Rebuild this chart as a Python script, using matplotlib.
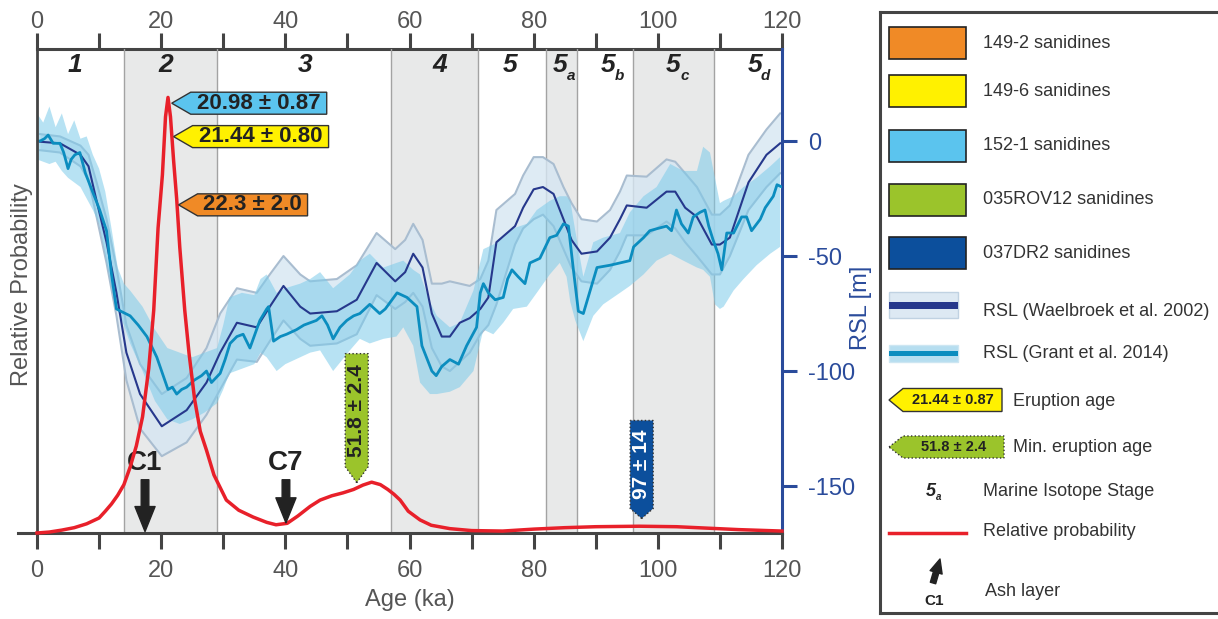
import numpy as np
import matplotlib
matplotlib.use('Agg')
import matplotlib.pyplot as plt
import matplotlib.transforms as mtransforms
from matplotlib.patches import Polygon, Rectangle

plt.rcParams['font.family'] = ['Liberation Sans', 'DejaVu Sans']
plt.rcParams['axes.unicode_minus'] = False

# --- relative probability curve (ka, arbitrary units) ---
prob_age = [0, 2, 4, 6, 8, 10, 11, 12, 13, 14, 15, 16, 17, 18, 18.8, 19.5, 20.2, 20.7,
            21.1, 21.5, 22.0, 22.5, 23.0, 23.8, 24.5, 25.4, 26.3, 27.3, 28.5, 30.5, 32.5,
            34.8, 37, 38.5, 40.3, 42, 44, 45.6, 47.5, 49.3, 51, 52.5, 53.9, 55.3, 56.5,
            57.5, 58.5, 59.8, 61.7, 63.5, 66.5, 70, 75, 80, 85, 90, 97, 103, 108, 113, 120]
prob_val = [0, 0.002, 0.006, 0.011, 0.019, 0.031, 0.045, 0.06, 0.078, 0.10, 0.136, 0.18,
            0.24, 0.34, 0.46, 0.63, 0.74, 0.86, 0.90, 0.86, 0.77, 0.69, 0.59, 0.46, 0.37,
            0.275, 0.21, 0.171, 0.12, 0.068, 0.047, 0.033, 0.022, 0.017, 0.02, 0.035, 0.055,
            0.068, 0.077, 0.083, 0.09, 0.099, 0.105, 0.1, 0.09, 0.08, 0.068, 0.045, 0.027,
            0.016, 0.009, 0.005, 0.004, 0.008, 0.011, 0.013, 0.014, 0.013, 0.01, 0.007, 0.004]

# --- RSL Waelbroek et al. 2002 (line + band) ---
wael_age = [0.5, 3.7, 7.0, 8.3, 9.6, 11.2, 12.8, 14.4, 16.6, 20.1, 24.1, 27.3, 29.5, 32.2,
            35.4, 37.5, 39.7, 42.4, 44.0, 48.3, 51.5, 54.7, 57.7, 59.3, 60.6, 62.1, 63.6,
            65.2, 66.5, 68.1, 69.7, 71.4, 72.7, 74.0, 77.0, 78.3, 80.0, 81.5, 83.2, 84.8,
            86.1, 87.7, 90.2, 92.3, 93.9, 95.0, 98.2, 101.4, 102.8, 104.4, 106.3, 108.7,
            110.0, 111.6, 114.6, 117.5, 119.7]
wael_rsl = [-0.3, -1, -6, -11, -26, -44, -66, -92, -110, -124, -117, -105, -92, -79, -81,
            -72, -63, -72, -75, -74, -69, -53, -61, -57, -49, -55, -75, -85, -85, -79, -77,
            -73, -68, -44, -37, -29, -21, -20, -23, -34, -43, -49, -48, -42, -34, -28, -29,
            -22, -22, -29, -33, -45, -45, -42, -18, -6, -1]
wael_hi = [3, 2, -2, -6, -18, -34, -55, -80, -97, -110, -103, -90, -75, -64, -66, -58, -50,
           -58, -61, -60, -54, -40, -47, -43, -36, -43, -62, -62, -61, -62, -63, -60, -52,
           -30, -23, -15, -7, -7, -10, -20, -27, -34, -35, -30, -22, -15, -15.5, -8, -9,
           -14, -20, -32, -32, -28, -6, 5, 12]
wael_lo = [-4, -5, -11, -17, -33, -53, -76, -104, -125, -137, -131, -119, -108, -95, -96,
           -87, -78, -86, -89, -88, -84, -67, -73, -70, -66, -72, -90, -98, -100, -96, -92,
           -84, -80, -71, -45, -38, -34, -32, -37, -47, -55, -61, -62, -56, -48, -41, -41,
           -35, -38, -44, -50, -58, -58, -50, -30, -20, -14]

# --- RSL Grant et al. 2014 (line) ---
grant_age = [0.0, 0.5, 1.2, 1.8, 2.6, 3.7, 4.3, 5.0, 5.5, 6.1, 6.9, 7.8, 8.8, 10.1, 11.2,
             12.0, 12.8, 13.5, 15.0, 16.3, 17.7, 19.3, 20.2, 21.1, 21.8, 22.5, 23.3, 24.1,
             25.3, 26.5, 27.3, 28.1, 29.5, 30.3, 31.1, 32.2, 33.2, 34.3, 35.1, 35.9, 37.0,
             37.3, 38.1, 39.2, 40.2, 41.8, 43.0, 44.0, 45.0, 45.9, 46.8, 47.7, 48.8, 49.9,
             51.0, 52.0, 53.6, 55.2, 56.1, 58.0, 59.6, 61.2, 62.0, 63.6, 64.3, 65.2, 66.5,
             67.9, 69.2, 70.8, 71.4, 71.9, 72.7, 73.8, 75.1, 75.8, 76.5, 77.5, 78.6, 79.4,
             81.0, 82.6, 83.7, 84.8, 85.6, 86.4, 87.2, 88.0, 89.1, 90.2, 92.3, 93.9, 95.5,
             96.1, 97.7, 98.7, 100.0, 101.4, 102.2, 103.0, 103.8, 104.9, 105.7, 106.8, 107.6,
             108.2, 108.9, 109.7, 110.3, 111.1, 112.2, 113.5, 114.3, 115.1, 116.5, 117.3,
             118.6, 119.2, 120.0]
grant_rsl = [0, 0, 1, 2.6, -1, -1, -5, -12, -8, -6, -5, -14, -21, -30, -39, -58, -73, -74,
             -76, -80, -85, -94, -101, -108, -107, -110, -108, -107, -104, -102, -100, -105,
             -101, -95, -88, -85, -84, -90, -84, -78, -73, -72, -87, -85, -84, -82, -80, -79,
             -78, -76, -80, -86, -81, -78, -76, -75, -71, -75, -73, -66, -68, -72, -89, -100,
             -102, -98, -95, -97, -89, -81, -66, -62, -66, -69, -68, -60, -56, -59, -62, -53,
             -51, -42, -41, -36, -37, -56, -74, -75, -65, -55, -54, -53, -52, -46, -42, -39,
             -38, -37, -39, -30, -36, -40, -33, -31, -30, -37, -43, -49, -56, -40, -40, -33,
             -33, -39, -34, -29, -24, -19, -20]

# --- Grant et al. 2014 uncertainty band ---
gband_age = [0, 1, 2, 3, 4, 5, 6, 7, 8, 9, 10, 11, 12, 13, 14, 15, 17, 19, 21, 23, 25, 27,
             29, 30, 31, 33, 35, 36, 37, 38.6, 40, 42.4, 44, 45.6, 47.7, 50.4, 52, 53.6, 55.8,
             57.9, 59, 60.6, 61.7, 63.3, 64.4, 66.5, 68.1, 70.3, 71.9, 73.5, 75.1, 76.7, 78.9,
             80.5, 82.6, 84.2, 85.3, 85.9, 86.7, 88.0, 89.6, 91.2, 93.9, 95.5, 97.7, 99.8, 102,
             104.1, 106.3, 107.3, 108.4, 109.2, 110, 110.6, 112.2, 113.8, 115.9, 118.1, 119.7]
gband_hi = [12, 8, 15, 6, 12, 3, 9, 1, 2, -6, -12, -22, -38, -55, -62, -65, -72, -82, -90,
            -92, -94, -92, -90, -80, -68, -66, -67, -60, -58, -66, -64, -62, -60, -57, -64,
            -58, -52, -49, -55, -53, -52, -56, -58, -70, -76, -81, -79, -65, -47, -45, -42,
            -38, -36, -30, -26, -24, -24, -26, -39, -59, -44, -42, -40, -31, -24, -20, -10,
            -13, -13, -2.5, -5, -16, -27, -26, -24, -20, -16, -11, -7]
gband_lo = [-8, -9, -10, -9, -13, -16, -18, -20, -25, -30, -36, -50, -64, -74, -80, -88,
            -100, -113, -121, -123, -121, -118, -114, -108, -101, -99, -97, -92, -94, -100,
            -97, -94, -92, -91, -100, -91, -86, -88, -86, -85, -81, -89, -105, -110, -110,
            -109, -107, -100, -82, -84, -79, -73, -72, -66, -58, -53, -59, -70, -78, -87, -76,
            -71, -66, -63, -58, -52, -49, -52, -55, -56, -59, -71, -73, -72, -65, -60, -54,
            -49, -46]

# --- marine isotope stages ---
mis_shaded = [(14, 29), (57, 71), (82, 87), (96, 109)]
mis_bounds = [14, 29, 57, 71, 82, 87, 96, 109]
mis_pos = [6.1, 20.7, 43.2, 64.8, 76.2, 84.2, 92.0, 102.5, 115.6]
mis_main = ['1', '2', '3', '4', '5', '5', '5', '5', '5']
mis_sub = ['', '', '', '', '', 'a', 'b', 'c', 'd']

# --- ash layers ---
ash_names = ['C1', 'C7']
ash_ages = [17.4, 40.1]
ash_tip = [0.003, 0.021]

# --- eruption age tags ---
tags_left = [('20.98 ± 0.87', 21.7, 0.888, '#5bc4ee'),
             ('21.44 ± 0.80', 22.0, 0.819, '#fff100'),
             ('22.3 ± 2.0', 22.8, 0.678, '#f08a26')]

fig = plt.figure(figsize=(12.18, 6.19), dpi=100)
ax_rsl = fig.add_axes([37 / 1218, 1 - 533 / 619, 745 / 1218, 484 / 619])
ax = ax_rsl.twinx()
ax.yaxis.tick_left()
ax_rsl.yaxis.tick_right()
ax_rsl.yaxis.set_label_position('right')

GRAY = '#444444'
BLUE = '#2a4b9b'


def tag(axes, x, y, label, face, kind='left', w=136, h=22, tip=20, fs=16,
        tc='#222222', dotted=False):
    # arrow shaped label, tip anchored at (x, y) in data units, size in pixels
    tr = fig.dpi_scale_trans + mtransforms.ScaledTranslation(x, y, axes.transData)
    if kind == 'left':
        pts = [(0, 0), (tip, h / 2), (tip + w, h / 2), (tip + w, -h / 2), (tip, -h / 2)]
        cx, cy, rot = tip + w / 2, 0, 0
    else:
        pts = [(0, 0), (-h / 2, tip), (-h / 2, tip + w), (h / 2, tip + w), (h / 2, tip)]
        cx, cy, rot = 0, tip + w / 2, 90
    pts = [(a / 100, b / 100) for a, b in pts]
    axes.add_patch(Polygon(pts, closed=True, facecolor=face, edgecolor='#333333',
                           lw=1.0, ls=':' if dotted else '-', transform=tr,
                           zorder=10, clip_on=False))
    axes.text(cx / 100, cy / 100, label, transform=tr, ha='center', va='center',
              rotation=rot, fontsize=fs, fontweight='bold', color=tc, zorder=11)


# background stages
for a, b in mis_shaded:
    ax_rsl.axvspan(a, b, color='#e8e9e9', zorder=0, lw=0)
for b in mis_bounds:
    ax_rsl.axvline(b, color='#a3a3a3', lw=1, zorder=0.5)

# RSL curves
ax_rsl.fill_between(wael_age, wael_lo, wael_hi, color='#d6e6f2', alpha=0.8, lw=0, zorder=1)
ax_rsl.plot(wael_age, wael_hi, color='#a9bdd0', lw=1.5, zorder=1.5)
ax_rsl.plot(wael_age, wael_lo, color='#a9bdd0', lw=1.5, zorder=1.5)
ax_rsl.fill(np.r_[gband_age, gband_age[::-1]], np.r_[gband_hi, gband_lo[::-1]],
            color='#7ccbea', alpha=0.55, lw=0, zorder=2)
ax_rsl.plot(wael_age, wael_rsl, color='#26388c', lw=1.5, zorder=3)
ax_rsl.plot(grant_age, grant_rsl, color='#0b8dbf', lw=2, zorder=3.5)

# probability curve
ax.plot(prob_age, prob_val, color='#e8202a', lw=2.5, zorder=5, clip_on=False)

ax.set_xlim(0, 120)
ax_rsl.set_xlim(0, 120)
ax.set_ylim(0, 1)
ax_rsl.set_ylim(-170.4, 40)

# stage labels
bt = mtransforms.blended_transform_factory(ax.transData, ax.transAxes)
for x, m, s in zip(mis_pos, mis_main, mis_sub):
    ax.text(x, 0.967, m, transform=bt, ha='center', va='center', fontsize=19,
            fontweight='bold', style='italic', color='#222222')
    if s:
        ax.annotate(s, xy=(x, 0.967), xycoords=bt, xytext=(11, -11),
                    textcoords='offset pixels', ha='center', va='center', fontsize=11,
                    fontweight='bold', style='italic', color='#222222')

# ash layers
for name, age, tp in zip(ash_names, ash_ages, ash_tip):
    ax.annotate('', xy=(age, tp), xytext=(age, 0.11),
                arrowprops=dict(facecolor='#222222', edgecolor='#222222', width=5.5,
                                headwidth=14.5, headlength=18, shrink=0), zorder=6)
    ax.text(age, 0.145, name, ha='center', va='center', fontsize=20, fontweight='bold',
            color='#222222')

# eruption age tags
for label, x, y, face in tags_left:
    w = 136 if len(label) > 10 else 110
    tag(ax, x, y, label, face, w=w, h=22, tip=19)
tag(ax, 51.5, 0.104, '51.8 ± 2.4', '#9bc42b', kind='down', w=113, h=23, tip=16,
    fs=15, dotted=True)
tag(ax, 97.4, 0.030, '97 ± 14', '#0c4f9c', kind='down', w=88, h=23, tip=10, fs=15,
    tc='white', dotted=True)

# axes styling
ax.set_yticks([])
for s in ['top', 'right', 'bottom']:
    ax.spines[s].set_visible(False)
ax.spines['left'].set_color(GRAY)
ax.spines['left'].set_linewidth(2)

ax_rsl.spines['left'].set_visible(False)
ax_rsl.spines['top'].set_visible(False)
ax_rsl.spines['bottom'].set_color(GRAY)
ax_rsl.spines['bottom'].set_linewidth(2.2)
ax_rsl.spines['right'].set_color(BLUE)
ax_rsl.spines['right'].set_linewidth(2.2)
ax_rsl.plot([-0.026, 0], [0, 0], transform=ax_rsl.transAxes, clip_on=False,
            color=GRAY, lw=2.2)

xt_major = list(range(0, 121, 20))
xt_minor = list(range(10, 120, 20))
ax_rsl.set_xticks(xt_major)
ax_rsl.set_xticks(xt_minor, minor=True)
ax_rsl.tick_params(axis='x', which='both', direction='out', length=11.5, width=2.2,
                   color=GRAY, pad=8, labelsize=17, labelcolor='#555555')
sec = ax_rsl.secondary_xaxis('top')
sec.set_xticks(xt_major)
sec.set_xticks(xt_minor, minor=True)
sec.tick_params(axis='x', which='both', direction='out', length=11.5, width=2.2,
                color=GRAY, pad=0, labelsize=17, labelcolor='#555555')
sec.spines['top'].set_color(GRAY)
sec.spines['top'].set_linewidth(2.2)

ax_rsl.set_yticks([0, -50, -100, -150])
ax_rsl.tick_params(axis='y', direction='out', length=11, width=2.2, color=BLUE,
                   labelcolor=BLUE, labelsize=17, pad=8)

ax.text(0.5, -0.138, 'Age (ka)', transform=ax.transAxes, ha='center', va='center',
        fontsize=17, color='#555555')
ax.text(-0.02, 0.514, 'Relative Probability', transform=ax.transAxes, rotation=90,
        ha='center', va='center', fontsize=17, color='#555555')
ax.text(1.106, 0.465, 'RSL [m]', transform=ax.transAxes, rotation=90, ha='center',
        va='center', fontsize=17, color=BLUE)

# legend panel (pixel coordinates)
leg = fig.add_axes([880 / 1218, 1 - 613 / 619, 338 / 1218, 601 / 619])
leg.set_xlim(880, 1218)
leg.set_ylim(613, 12)
leg.set_xticks([])
leg.set_yticks([])
leg.spines['right'].set_visible(False)
for s in ['left', 'top', 'bottom']:
    leg.spines[s].set_color('#444444')
    leg.spines[s].set_linewidth(2.2)

sample_names = ['149-2 sanidines', '149-6 sanidines', '152-1 sanidines',
                '035ROV12 sanidines', '037DR2 sanidines']
sample_colors = ['#f08a26', '#fff100', '#5bc4ee', '#9bc42b', '#0c4f9c']
sample_rows = [43, 91, 146, 200, 253]
LT = '#333333'
for name, c, yc in zip(sample_names, sample_colors, sample_rows):
    leg.add_patch(Rectangle((889, yc - 16), 77, 32, facecolor=c, edgecolor='#222222', lw=1.2))
    leg.text(983, yc, name, va='center', fontsize=13, color=LT)

leg.add_patch(Rectangle((889, 292), 69, 26, facecolor='#dde9f3', edgecolor='#c0d2e2', lw=1))
leg.add_patch(Rectangle((889, 302), 69, 6.5, facecolor='#26388c', lw=0))
leg.text(983, 312, 'RSL (Waelbroek et al. 2002)', va='center', fontsize=13, color=LT)
leg.add_patch(Rectangle((889, 345), 69, 17, facecolor='#b6def0', edgecolor='#cde6f2', lw=1))
leg.add_patch(Rectangle((889, 351), 69, 4.5, facecolor='#0b8dbf', lw=0))
leg.text(983, 353, 'RSL (Grant et al. 2014)', va='center', fontsize=13, color=LT)

tag(leg, 889, 400, '21.44 ± 0.87', '#fff100', w=99, h=23, tip=14, fs=10.5)
leg.text(1013, 402, 'Eruption age', va='center', fontsize=13, color=LT)
tag(leg, 889, 447, '51.8 ± 2.4', '#9bc42b', w=101, h=22, tip=14, fs=10.5, dotted=True)
leg.text(1013, 448, 'Min. eruption age', va='center', fontsize=13, color=LT)

leg.text(931, 491, '5', ha='center', va='center', fontsize=13, fontweight='bold',
         style='italic', color='#222222')
leg.text(939, 497, 'a', ha='center', va='center', fontsize=7, fontweight='bold',
         style='italic', color='#222222')
leg.text(983, 492, 'Marine Isotope Stage', va='center', fontsize=13, color=LT)

leg.plot([889, 966], [533, 533], color='#e8202a', lw=2.5)
leg.text(983, 532, 'Relative probability', va='center', fontsize=13, color=LT)

leg.annotate('', xy=(940, 559), xytext=(933, 583),
             arrowprops=dict(facecolor='#222222', edgecolor='#222222', width=4,
                             headwidth=9, headlength=10, shrink=0))
leg.text(934, 601, 'C1', ha='center', va='center', fontsize=11, fontweight='bold',
         color='#222222')
leg.text(985, 592, 'Ash layer', va='center', fontsize=13, color=LT)

fig.savefig('out.png', dpi=100)
